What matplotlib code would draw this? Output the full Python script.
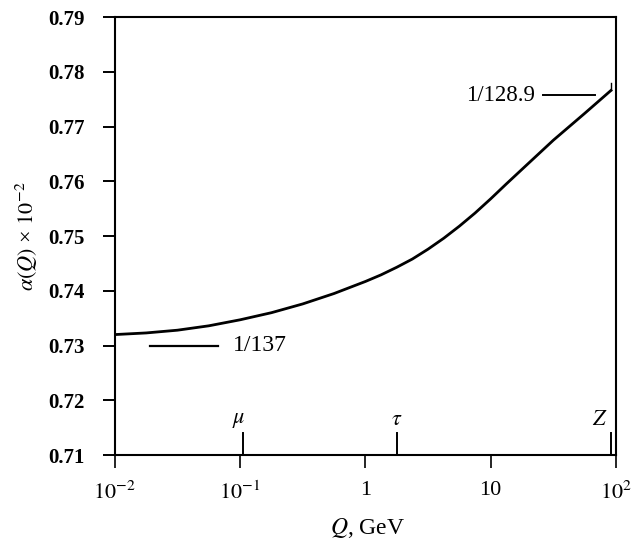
import matplotlib
matplotlib.use("Agg")
import matplotlib.pyplot as plt
from matplotlib.ticker import FixedLocator, FixedFormatter, NullLocator

plt.rcParams['font.family'] = ['Liberation Serif', 'DejaVu Serif']
plt.rcParams['mathtext.fontset'] = 'stix'

# Data (Q in GeV, alpha x 100)
Q_gev = [0.01, 0.0178, 0.0316, 0.0562, 0.1, 0.178, 0.316, 0.562, 1.0,
         1.33, 1.78, 2.37, 3.16, 4.22, 5.62, 7.50, 10.0, 13.3, 17.8,
         31.6, 56.2, 91.2]
alpha_e2 = [0.7320, 0.7323, 0.7328, 0.7336, 0.7347, 0.7360, 0.7376, 0.7395,
            0.7417, 0.7429, 0.7443, 0.7458, 0.7476, 0.7496, 0.7518, 0.7542,
            0.7568, 0.7595, 0.7622, 0.7675, 0.7724, 0.7766]

particle_names = [r'$\mu$', r'$\tau$', r'$Z$']
particle_masses = [0.1057, 1.777, 91.19]

y_ticks = [0.71, 0.72, 0.73, 0.74, 0.75, 0.76, 0.77, 0.78, 0.79]
y_ticklabels = ['0.71', '0.72', '0.73', '0.74', '0.75', '0.76', '0.77', '0.78', '0.79']
x_ticks = [0.01, 0.1, 1, 10, 100]
x_ticklabels = [r'$10^{-2}$', r'$10^{-1}$', '1', '10', r'$10^{2}$']

alpha_0 = 0.730      # 1/137 (x100)
alpha_mz = 0.7757    # 1/128.9 (x100)

fig = plt.figure(figsize=(6.38, 5.42), dpi=100)
ax = fig.add_axes([0.180, 0.1605, 0.7855, 0.808])

ax.set_xscale('log')
ax.set_xlim(0.01, 100)
ax.set_ylim(0.71, 0.79)

ax.plot(Q_gev, alpha_e2, color='black', lw=2.0, solid_joinstyle='round')

# particle mass markers
mark_h = 0.004
for name, m, dx in zip(particle_names, particle_masses, [0.93, 1.0, 0.82]):
    ax.plot([m, m], [0.71, 0.71 + mark_h], color='black', lw=1.4, clip_on=False)
    ax.text(m * dx, 0.71 + mark_h + 0.0006, name, ha='center', va='bottom',
            fontsize=16)

# small mark at the end of the curve
ax.plot([Q_gev[-1], Q_gev[-1]], [alpha_e2[-1], alpha_e2[-1] + 0.0014],
        color='black', lw=1.0)

# 1/137 annotation
ax.plot([0.019, 0.066], [alpha_0, alpha_0], color='black', lw=1.6)
ax.text(0.088, alpha_0, '1/137', ha='left', va='center', fontsize=17)

# 1/128.9 annotation
ax.plot([26, 68], [alpha_mz, alpha_mz], color='black', lw=1.4)
ax.text(22.5, alpha_mz, '1/128.9', ha='right', va='center', fontsize=16.5)

ax.yaxis.set_major_locator(FixedLocator(y_ticks))
ax.yaxis.set_major_formatter(FixedFormatter(y_ticklabels))
ax.xaxis.set_major_locator(FixedLocator(x_ticks))
ax.xaxis.set_major_formatter(FixedFormatter(x_ticklabels))
ax.xaxis.set_minor_locator(NullLocator())

ax.tick_params(axis='y', direction='out', length=9, width=1.4, pad=13,
               labelsize=15)
ax.tick_params(axis='x', direction='out', length=9, width=1.2, pad=10,
               labelsize=16)
for lab in ax.get_yticklabels():
    lab.set_fontweight('bold')

for sp in ax.spines.values():
    sp.set_linewidth(1.5)

ax.set_xlabel(r'$Q$, GeV', fontsize=17)
ax.xaxis.set_label_coords(0.505, -0.140)
ax.set_ylabel(r'$\alpha(Q)$ × $10^{-2}$', fontsize=16)
ax.yaxis.set_label_coords(-0.150, 0.5)

fig.savefig('out.png', dpi=100)
